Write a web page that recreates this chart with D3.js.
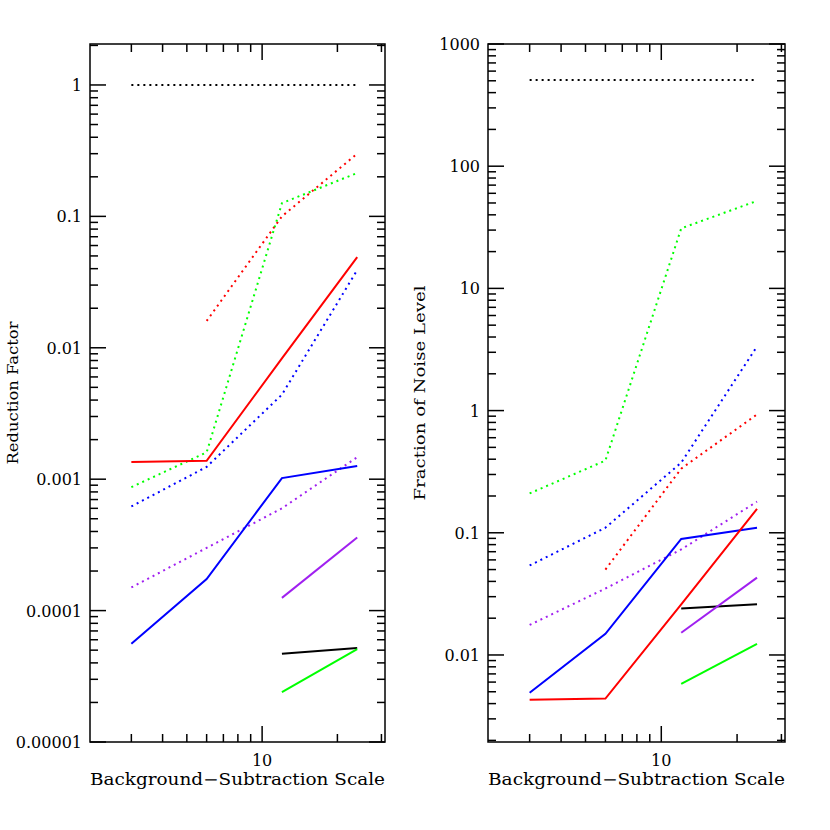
<!DOCTYPE html>
<html><head><meta charset="utf-8">
<script src="https://cdn.jsdelivr.net/npm/d3@7"></script>
<style>body{margin:0;background:#fff}text{font-family:"DejaVu Serif",serif;fill:#000}</style>
</head><body><svg id="c" width="830" height="830"></svg>
<script>
const scales = [3, 6, 12, 24];
// Left panel: Reduction Factor
const leftSeries = [
  {color:"#000", dash:true,  x:[3,6,12,24], y:[1,1,1,1]},
  {color:"#f00", dash:true,  x:[6,12,24], y:[0.016,0.1,0.30]},
  {color:"#0f0", dash:true,  x:[3,6,12,24], y:[0.00087,0.0016,0.126,0.214]},
  {color:"#00f", dash:true,  x:[3,6,12,24], y:[0.00062,0.00124,0.0044,0.039]},
  {color:"#a020f0", dash:true, x:[3,6,12,24], y:[0.00015,0.0003,0.0006,0.00147]},
  {color:"#f00", dash:false, x:[3,6,12,24], y:[0.00135,0.00138,0.0083,0.049]},
  {color:"#00f", dash:false, x:[3,6,12,24], y:[0.000056,0.000174,0.00102,0.00126]},
  {color:"#a020f0", dash:false, x:[12,24], y:[0.000125,0.00036]},
  {color:"#000", dash:false, x:[12,24], y:[0.000047,0.000052]},
  {color:"#0f0", dash:false, x:[12,24], y:[0.000024,0.000051]}
];
// Right panel: Fraction of Noise Level
const rightSeries = [
  {color:"#000", dash:true,  x:[3,6,12,24], y:[507,507,507,507]},
  {color:"#0f0", dash:true,  x:[3,6,12,24], y:[0.21,0.39,31,52]},
  {color:"#00f", dash:true,  x:[3,6,12,24], y:[0.054,0.11,0.375,3.35]},
  {color:"#f00", dash:true,  x:[6,12,24], y:[0.05,0.335,0.93]},
  {color:"#a020f0", dash:true, x:[3,6,12,24], y:[0.0176,0.035,0.073,0.18]},
  {color:"#00f", dash:false, x:[3,6,12,24], y:[0.0049,0.0149,0.089,0.11]},
  {color:"#f00", dash:false, x:[3,6,12,24], y:[0.0043,0.0044,0.026,0.157]},
  {color:"#000", dash:false, x:[12,24], y:[0.024,0.026]},
  {color:"#a020f0", dash:false, x:[12,24], y:[0.0152,0.043]},
  {color:"#0f0", dash:false, x:[12,24], y:[0.0058,0.0123]}
];
const xDomain = [2.05, 31];
const leftTicks = [1e-5,1e-4,1e-3,1e-2,0.1,1];
const leftTickLabels = ["0.00001","0.0001","0.001","0.01","0.1","1"];
const rightTicks = [0.01,0.1,1,10,100,1000];
const rightTickLabels = ["0.01","0.1","1","10","100","1000"];
const xTicks = [10], xTickLabels = ["10"];

const svg = d3.select("#c");
function panel(x0,x1,y0,y1,yDomain,series,yt,ytl,ylabel,ylabX,ylabLen){
  const x = d3.scaleLog().domain(xDomain).range([x0,x1]);
  const y = d3.scaleLog().domain(yDomain).range([y1,y0]);
  const g = svg.append("g");
  const line = d3.line().x((d)=>x(d[0])).y((d)=>y(d[1]));
  series.forEach(s=>{
    g.append("path").attr("d", line(s.x.map((v,i)=>[v,s.y[i]])))
      .attr("fill","none").attr("stroke",s.color).attr("stroke-width",2)
      .attr("stroke-dasharray", s.dash ? "2,4" : null);
  });
  const tk = g.append("g").attr("stroke","#000").attr("stroke-width",1.5);
  const [ya,yb]=yDomain;
  for(let e=Math.floor(Math.log10(ya)); e<=Math.ceil(Math.log10(yb)); e++){
    for(let m=1;m<10;m++){
      const v=m*Math.pow(10,e); if(v<ya||v>yb) continue;
      const L = m===1?16:8, py=y(v);
      tk.append("line").attr("x1",x0).attr("x2",x0+L).attr("y1",py).attr("y2",py);
      tk.append("line").attr("x1",x1).attr("x2",x1-L).attr("y1",py).attr("y2",py);
    }
  }
  for(let e=0;e<=1;e++) for(let m=1;m<10;m++){
    const v=m*Math.pow(10,e); if(v<xDomain[0]||v>xDomain[1]) continue;
    const L = m===1?16:8, px=x(v);
    tk.append("line").attr("x1",px).attr("x2",px).attr("y1",y1).attr("y2",y1-L);
    tk.append("line").attr("x1",px).attr("x2",px).attr("y1",y0).attr("y2",y0+L);
  }
  g.append("rect").attr("x",x0).attr("y",y0).attr("width",x1-x0).attr("height",y1-y0)
    .attr("fill","none").attr("stroke","#000").attr("stroke-width",1.5);
  yt.forEach((v,i)=>g.append("text").attr("x",x0-8).attr("y",y(v)+6).attr("text-anchor","end")
    .attr("font-size",16).text(ytl[i]));
  xTicks.forEach((v,i)=>g.append("text").attr("x",x(v)).attr("y",y1+24).attr("text-anchor","middle")
    .attr("font-size",16).text(xTickLabels[i]));
  g.append("text").attr("x",(x0+x1)/2).attr("y",y1+43).attr("text-anchor","middle")
    .attr("font-size",16).attr("textLength",x1-x0).attr("lengthAdjust","spacingAndGlyphs")
    .text("Background\u2212Subtraction Scale");
  g.append("text").attr("transform",`translate(${ylabX},${(y0+y1)/2}) rotate(-90)`)
    .attr("text-anchor","middle").attr("font-size",15).attr("textLength",ylabLen)
    .attr("lengthAdjust","spacingAndGlyphs").text(ylabel);
}
panel(90,385,44,742,[1e-5,2.05],leftSeries,leftTicks,leftTickLabels,"Reduction Factor",18,143);
panel(488,785,44,742,[0.00194,1000],rightSeries,rightTicks,rightTickLabels,"Fraction of Noise Level",425,215);
</script></body></html>
